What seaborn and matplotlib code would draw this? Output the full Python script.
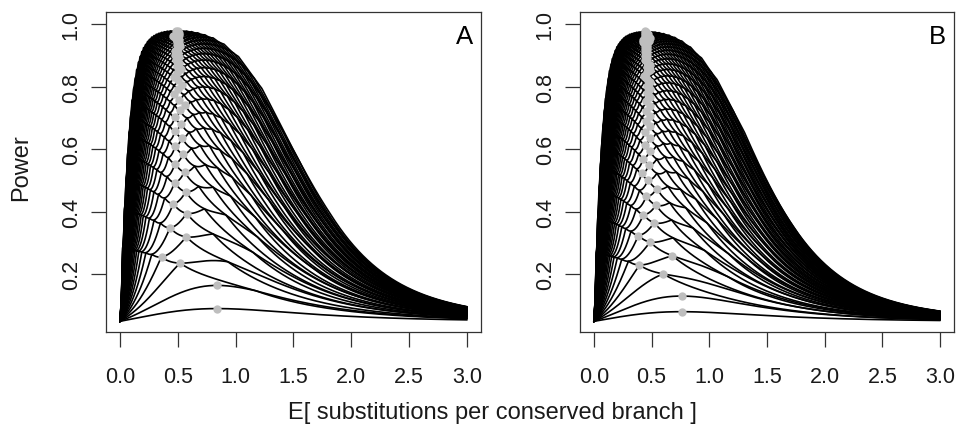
import math

import numpy as np
import pandas as pd
import matplotlib
matplotlib.use("Agg")
import matplotlib.pyplot as plt
import seaborn as sns

# ===============================
# 1. Chart data / model settings
# ===============================

alpha = 0.05                      # test level, power at E[subs] = 0
x_grid = np.linspace(0.0, 3.0, 601)

# panel A: one curve per number of aligned sites
sites_A = list(range(1, 53))
neutral_ratio_A = 2.4             # neutral rate / conserved rate
saturation_A = 0.8                # max. fraction of differing sites

# panel B
sites_B = list(range(1, 64))
neutral_ratio_B = 2.3
saturation_B = 0.75

panel_labels = ["A", "B"]
x_ticks = [0.0, 0.5, 1.0, 1.5, 2.0, 2.5, 3.0]
y_ticks = [0.2, 0.4, 0.6, 0.8, 1.0]
x_label = "E[ substitutions per conserved branch ]"
y_label = "Power"


# ===============================
# 2. Power of the randomized one-sided binomial test
# ===============================

def diff_prob(t, sat):
    return sat * (1 - np.exp(-t / sat))


def power_curve(x, n, ratio, sat):
    p_con = np.clip(diff_prob(x, sat), 1e-12, 1 - 1e-12)
    p_neu = np.clip(diff_prob(ratio * x, sat), 1e-12, 1 - 1e-12)
    k = np.arange(n + 1)
    logc = np.array([math.lgamma(n + 1) - math.lgamma(j + 1) - math.lgamma(n - j + 1) for j in k])
    pmf0 = np.exp(logc + k * np.log(p_neu[:, None]) + (n - k) * np.log1p(-p_neu[:, None]))
    pmf1 = np.exp(logc + k * np.log(p_con[:, None]) + (n - k) * np.log1p(-p_con[:, None]))
    cdf0 = np.cumsum(pmf0, axis=1)
    cdf1 = np.cumsum(pmf1, axis=1)
    c = (cdf0 <= alpha).sum(axis=1)
    rows = np.arange(len(x))
    below = np.maximum(c - 1, 0)
    f0 = np.where(c > 0, cdf0[rows, below], 0.0)
    f1 = np.where(c > 0, cdf1[rows, below], 0.0)
    gam = (alpha - f0) / pmf0[rows, c]
    return f1 + gam * pmf1[rows, c]


def build_panel(sites, ratio, sat):
    frames = []
    peaks = []
    for n in sites:
        pw = power_curve(x_grid, n, ratio, sat)
        frames.append(pd.DataFrame({"x": x_grid, "power": pw, "sites": n}))
        i = int(np.argmax(pw))
        peaks.append((x_grid[i], pw[i]))
    curves = pd.concat(frames, ignore_index=True)
    peaks = pd.DataFrame(peaks, columns=["x", "power"])
    return curves, peaks


panels = [
    build_panel(sites_A, neutral_ratio_A, saturation_A),
    build_panel(sites_B, neutral_ratio_B, saturation_B),
]

# ===============================
# 3. Plot
# ===============================

sns.set_style("ticks")
plt.rcParams["font.family"] = ["Liberation Sans", "DejaVu Sans"]
text_color = "#1a1a1a"

fig = plt.figure(figsize=(9.58, 4.35), dpi=100)
axes = [
    fig.add_axes([0.1106, 0.2345, 0.3914, 0.7356]),
    fig.add_axes([0.6054, 0.2345, 0.3904, 0.7356]),
]

for ax, (curves, peaks), label in zip(axes, panels, panel_labels):
    sns.lineplot(data=curves, x="x", y="power", units="sites", estimator=None,
                 sort=False, color="black", linewidth=1.2, legend=False, ax=ax)
    sns.scatterplot(data=peaks, x="x", y="power", color="#bebebe", s=36,
                    linewidth=0, legend=False, zorder=3, ax=ax)

    ax.set_xlim(-0.12, 3.12)
    ax.set_ylim(0.016, 1.038)
    ax.set_xticks(x_ticks)
    ax.set_xticklabels([f"{v:.1f}" for v in x_ticks])
    ax.set_yticks(y_ticks)
    ax.set_yticklabels([f"{v:.1f}" for v in y_ticks], rotation=90, va="center")
    ax.set_xlabel("")
    ax.set_ylabel("")
    for sp in ax.spines.values():
        sp.set_visible(True)
        sp.set_linewidth(0.9)
        sp.set_color("#333333")
    ax.tick_params(axis="both", direction="out", length=10.5, width=0.9,
                   color="#333333", labelsize=15.5, labelcolor=text_color)
    ax.tick_params(axis="x", pad=14)
    ax.tick_params(axis="y", pad=7)
    ax.text(0.98, 0.962, label, transform=ax.transAxes, ha="right", va="top",
            fontsize=18.5, color="black")

fig.text(492 / 958, 1 - 413 / 435, x_label, ha="center", va="center",
         fontsize=17, color=text_color)
fig.text(21 / 958, 1 - 168 / 435, y_label, ha="center", va="center",
         rotation=90, fontsize=17, color=text_color)

fig.savefig("out.png", dpi=100)
